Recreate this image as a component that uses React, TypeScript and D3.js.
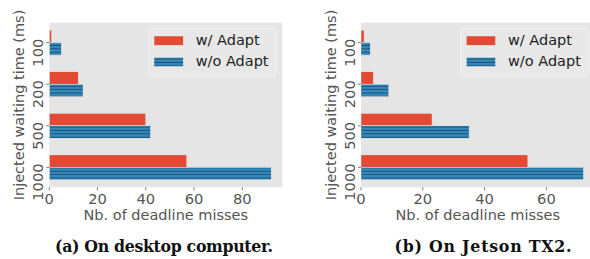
import React from "react";
import * as d3 from "d3";

const categories = ["1000", "500", "200", "100"];
const seriesNames = ["w/ Adapt", "w/o Adapt"];
const desktopWith = [57, 40, 12, 1];
const desktopWithout = [92, 42, 14, 5];
const jetsonWith = [54, 23, 4, 1];
const jetsonWithout = [72, 35, 9, 3];
const desktopTicks = [0, 20, 40, 60, 80];
const jetsonTicks = [0, 20, 40, 60];
const captions = ["(a) On desktop computer.", "(b) On Jetson TX2."];

const RED = "#E24A33";
const BLUE = "#348ABD";
const GRAY = "#555555";
const FONT = "DejaVu Sans, sans-serif";

type PanelProps = {
  left: number;
  width: number;
  withVals: number[];
  withoutVals: number[];
  ticks: number[];
  caption: string;
  captionX: number;
  captionLen: number;
  id: string;
};

function Panel({ left, width, withVals, withoutVals, ticks, caption, captionX, captionLen, id }: PanelProps) {
  const top = 22.7;
  const bottom = 187.3;
  const maxV = d3.max(withoutVals.concat(withVals)) as number;
  const x = d3.scaleLinear().domain([0, maxV * 1.05]).range([left, left + width]);
  const y = d3.scaleLinear().domain([-0.48, 3.48]).range([bottom, top]);
  const bh = y(0) - y(0.3);
  const legW = 127.7;
  const legX = left + width - 6.3 - legW;
  return (
    <g>
      <defs>
        <clipPath id={`clip-${id}`}>
          <rect x={left} y={top} width={width} height={bottom - top} />
        </clipPath>
        <pattern id={`hatch-${id}`} patternUnits="userSpaceOnUse" width={8} height={3.4}>
          <rect x={0} y={0} width={8} height={3.4} fill={BLUE} />
          <line x1={0} x2={8} y1={1.2} y2={1.2} stroke="#1d4a6b" strokeWidth={0.9} />
        </pattern>
      </defs>
      <rect x={left} y={top} width={width} height={bottom - top} fill="#E5E5E5" />
      <g clipPath={`url(#clip-${id})`}>
        {categories.map((c, i) => (
          <g key={c}>
            <rect
              x={x(0)}
              y={y(i + 0.3)}
              width={x(withVals[i]) - x(0)}
              height={bh}
              fill={RED}
              stroke="#EEEEEE"
              strokeWidth={0.5}
            />
            <rect
              x={x(0)}
              y={y(i)}
              width={x(withoutVals[i]) - x(0)}
              height={bh}
              fill={`url(#hatch-${id})`}
              stroke="#EEEEEE"
              strokeWidth={0.5}
            />
          </g>
        ))}
      </g>
      {ticks.map((t) => (
        <g key={t}>
          <line x1={x(t)} x2={x(t)} y1={bottom} y2={bottom + 3} stroke={GRAY} strokeWidth={0.8} />
          <text x={x(t)} y={203.5} textAnchor="middle" fontSize={14.7} fill={GRAY} fontFamily={FONT}>
            {t}
          </text>
        </g>
      ))}
      {categories.map((c, i) => (
        <g key={c}>
          <line x1={left - 3} x2={left} y1={y(i)} y2={y(i)} stroke={GRAY} strokeWidth={0.8} />
          <text
            transform={`translate(${left - 6.2},${y(i) - 4}) rotate(-90)`}
            textAnchor="end"
            fontSize={14.7}
            fill={GRAY}
            fontFamily={FONT}
          >
            {c}
          </text>
        </g>
      ))}
      <text x={left + width / 2} y={219.5} textAnchor="middle" fontSize={14.5} fill={GRAY} fontFamily={FONT}>
        Nb. of deadline misses
      </text>
      <text
        transform={`translate(${left - 25},${(top + bottom) / 2}) rotate(-90)`}
        textAnchor="middle"
        fontSize={14.5}
        fill={GRAY}
        fontFamily={FONT}
      >
        Injected waiting time (ms)
      </text>
      <rect x={legX} y={28.3} width={legW} height={47.7} rx={3} fill="#E8E8E8" stroke="#F2F2F2" strokeWidth={1} />
      <rect x={legX + 5.7} y={36} width={29.3} height={9.3} fill={RED} stroke="#EEEEEE" strokeWidth={0.5} />
      <rect x={legX + 5.7} y={57.3} width={29.3} height={9.3} fill={`url(#hatch-${id})`} stroke="#EEEEEE" strokeWidth={0.5} />
      <text x={legX + 47.4} y={45} fontSize={14.5} fill="#222" fontFamily={FONT}>
        {seriesNames[0]}
      </text>
      <text x={legX + 47.4} y={66} fontSize={14.5} fill="#222" fontFamily={FONT}>
        {seriesNames[1]}
      </text>
      <text
        x={captionX}
        y={251.5}
        textAnchor="middle"
        fontSize={15.8}
        fontWeight="bold"
        fill="#111"
        fontFamily="DejaVu Serif, serif"
        textLength={captionLen}
        lengthAdjust="spacing"
      >
        {caption}
      </text>
    </g>
  );
}

export default function App() {
  return (
    <svg width={590} height={259} style={{ position: "fixed", left: 0, top: 0, background: "#fff" }}>
      <rect x={0} y={0} width={590} height={259} fill="#fff" />
      <Panel
        id="a"
        left={49.3}
        width={233}
        withVals={desktopWith}
        withoutVals={desktopWithout}
        ticks={desktopTicks}
        caption={captions[0]}
        captionX={164}
        captionLen={218}
      />
      <Panel
        id="b"
        left={361}
        width={233.6}
        withVals={jetsonWith}
        withoutVals={jetsonWithout}
        ticks={jetsonTicks}
        caption={captions[1]}
        captionX={483}
        captionLen={177}
      />
    </svg>
  );
}
